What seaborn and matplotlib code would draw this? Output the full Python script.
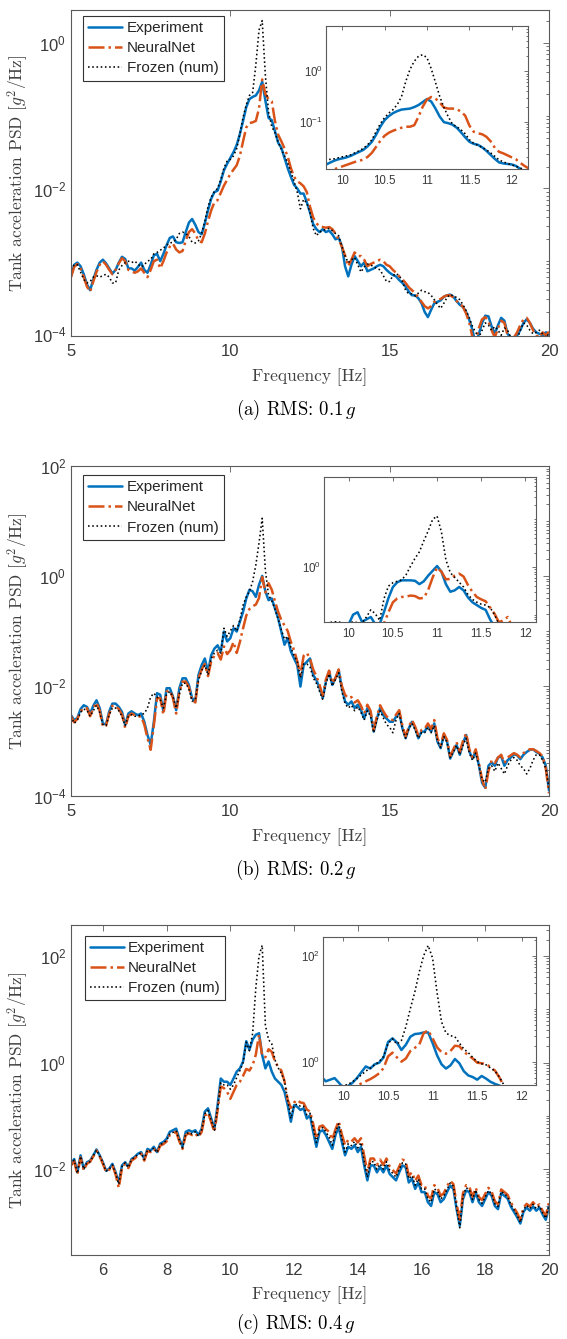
import numpy as np
import matplotlib
matplotlib.use("Agg")
import matplotlib.pyplot as plt
from matplotlib.ticker import LogLocator, FixedLocator, NullFormatter
import seaborn as sns

# ---------------- data (log10 of PSD, g^2/Hz) ----------------
freq_main = np.round(np.linspace(5.0, 20.0, 151), 2)
freq_inset = np.round(np.linspace(9.7, 12.2, 51), 2)
series_names = ["Experiment", "NeuralNet", "Frozen (num)"]
captions = ["(a)", "(b)", "(c)"]
rms_levels = ["0.1", "0.2", "0.4"]

exp_a = [-3.21, -3.05, -3.02, -3.07, -3.18, -3.32, -3.40, -3.25, -3.12, -3.02,
         -2.98, -3.03, -3.10, -3.17, -3.12, -3.02, -2.94, -2.97, -3.10, -3.10,
         -3.13, -3.08, -3.02, -3.12, -3.16, -3.05, -2.92, -2.90, -3.00, -2.90,
         -2.78, -2.68, -2.66, -2.74, -2.75, -2.74, -2.60, -2.47, -2.42, -2.50,
         -2.60, -2.63, -2.48, -2.30, -2.14, -2.05, -2.03, -1.90, -1.75, -1.66,
         -1.58, -1.50, -1.40, -1.25, -1.07, -0.88, -0.77, -0.74, -0.72, -0.65,
         -0.53, -0.79, -1.03, -1.06, -1.21, -1.37, -1.44, -1.58, -1.72, -1.84,
         -1.95, -2.00, -2.07, -2.07, -2.19, -2.33, -2.49, -2.56, -2.60, -2.56,
         -2.60, -2.58, -2.63, -2.70, -2.68, -2.79, -3.07, -3.21, -3.05, -2.93,
         -3.00, -3.07, -3.02, -3.14, -3.12, -3.10, -3.07, -3.05, -3.07, -3.12,
         -3.16, -3.19, -3.21, -3.26, -3.30, -3.35, -3.42, -3.47, -3.47, -3.51,
         -3.58, -3.70, -3.77, -3.67, -3.58, -3.56, -3.54, -3.49, -3.47, -3.46,
         -3.49, -3.55, -3.60, -3.63, -3.70, -3.81, -3.95, -4.15, -4.00, -3.85,
         -3.75, -3.76, -3.90, -4.00, -3.88, -3.78, -3.82, -4.00, -4.05, -4.05,
         -4.02, -3.95, -3.85, -3.80, -3.85, -3.93, -3.98, -4.00, -4.02, -3.98,
         -4.00]
nn_a = [-3.22, -3.08, -3.04, -3.10, -3.22, -3.35, -3.42, -3.28, -3.15, -3.05,
        -3.00, -3.05, -3.12, -3.18, -3.12, -3.03, -2.96, -3.00, -3.12, -3.14,
        -3.16, -3.14, -3.10, -3.16, -3.22, -3.12, -3.00, -2.98, -3.10, -3.00,
        -2.88, -2.80, -2.76, -2.84, -2.88, -2.86, -2.72, -2.60, -2.56, -2.62,
        -2.72, -2.74, -2.62, -2.45, -2.30, -2.19, -2.16, -2.06, -1.96, -1.88,
        -1.80, -1.74, -1.68, -1.55, -1.35, -1.16, -1.10, -1.09, -1.07, -0.90,
        -0.50, -0.70, -0.77, -0.80, -1.07, -1.26, -1.35, -1.45, -1.56, -1.72,
        -1.84, -1.90, -1.93, -1.97, -2.05, -2.25, -2.40, -2.48, -2.52, -2.53,
        -2.54, -2.53, -2.56, -2.62, -2.70, -2.80, -2.92, -3.07, -2.98, -2.88,
        -2.93, -2.93, -2.98, -3.07, -3.04, -3.02, -3.00, -2.98, -3.00, -3.05,
        -3.07, -3.12, -3.16, -3.21, -3.25, -3.30, -3.36, -3.40, -3.44, -3.50,
        -3.56, -3.62, -3.65, -3.62, -3.56, -3.54, -3.52, -3.49, -3.47, -3.47,
        -3.50, -3.55, -3.58, -3.63, -3.72, -3.85, -4.05, -4.10, -3.92, -3.80,
        -3.77, -3.83, -3.95, -4.05, -3.92, -3.82, -3.85, -4.02, -4.10, -4.05,
        -3.98, -3.88, -3.80, -3.78, -3.85, -3.95, -4.02, -4.05, -3.98, -4.02,
        -3.97]
frozen_a = [-3.12, -3.05, -3.05, -3.15, -3.25, -3.30, -3.28, -3.22, -3.20, -3.22,
            -3.20, -3.18, -3.22, -3.30, -3.30, -3.12, -3.06, -3.02, -3.00, -3.02,
            -3.00, -3.04, -3.08, -3.05, -3.00, -2.98, -2.90, -2.88, -2.85, -2.82,
            -2.78, -2.75, -2.74, -2.70, -2.62, -2.60, -2.62, -2.66, -2.74, -2.75,
            -2.72, -2.62, -2.45, -2.25, -2.12, -2.04, -2.00, -1.88, -1.72, -1.62,
            -1.60, -1.55, -1.45, -1.25, -1.02, -0.85, -0.72, -0.68, -0.30, 0.18,
            0.31, -0.45, -0.95, -1.15, -1.23, -1.36, -1.46, -1.55, -1.65, -1.77,
            -1.90, -2.05, -2.28, -2.15, -2.20, -2.33, -2.55, -2.65, -2.60, -2.58,
            -2.56, -2.55, -2.58, -2.62, -2.65, -2.80, -2.93, -3.02, -2.98, -2.95,
            -3.05, -3.15, -3.08, -3.04, -3.05, -3.08, -3.10, -3.12, -3.20, -3.28,
            -3.28, -3.20, -3.17, -3.20, -3.28, -3.40, -3.45, -3.45, -3.48, -3.44,
            -3.40, -3.42, -3.43, -3.47, -3.53, -3.60, -3.65, -3.58, -3.50, -3.46,
            -3.48, -3.50, -3.53, -3.60, -3.68, -3.78, -3.90, -3.98, -4.05, -3.95,
            -3.85, -3.88, -3.95, -3.90, -3.95, -4.02, -3.92, -3.95, -4.05, -4.10,
            -4.08, -3.95, -3.85, -3.88, -3.95, -4.00, -3.98, -3.95, -4.00, -4.05,
            -4.00]

exp_b = [-2.53, -2.62, -2.58, -2.42, -2.35, -2.38, -2.50, -2.36, -2.26, -2.40,
         -2.68, -2.70, -2.46, -2.32, -2.32, -2.38, -2.47, -2.71, -2.50, -2.46,
         -2.50, -2.53, -2.50, -2.65, -2.89, -3.07, -2.65, -2.13, -2.16, -2.46,
         -2.04, -2.04, -2.19, -2.44, -2.04, -1.86, -1.86, -1.98, -2.22, -2.28,
         -1.80, -1.62, -1.50, -1.74, -1.44, -1.32, -1.26, -1.38, -1.01, -1.19,
         -1.13, -0.95, -1.01, -0.83, -0.65, -0.41, -0.25, -0.28, -0.38, -0.16,
         0.00, -0.28, -0.44, -0.41, -0.59, -0.77, -1.01, -1.25, -1.13, -1.37,
         -1.50, -1.62, -2.01, -1.62, -1.56, -1.50, -1.80, -1.89, -2.04, -2.22,
         -1.92, -1.74, -1.98, -1.86, -1.71, -2.04, -2.28, -2.34, -2.28, -2.40,
         -2.34, -2.44, -2.59, -2.40, -2.50, -2.83, -2.59, -2.40, -2.53, -2.59,
         -2.65, -2.65, -2.56, -2.47, -2.77, -2.95, -2.77, -2.65, -2.77, -2.95,
         -2.83, -2.83, -2.71, -2.83, -2.68, -3.01, -3.13, -2.89, -3.01, -3.32,
         -3.19, -3.07, -3.25, -3.04, -2.89, -3.19, -3.32, -3.19, -3.44, -3.76,
         -3.85, -3.45, -3.39, -3.45, -3.30, -3.28, -3.45, -3.35, -3.30, -3.24,
         -3.26, -3.33, -3.25, -3.20, -3.16, -3.15, -3.20, -3.23, -3.30, -3.45,
         -3.90]
nn_b = [-2.55, -2.66, -2.60, -2.46, -2.40, -2.40, -2.55, -2.40, -2.30, -2.45,
        -2.74, -2.72, -2.50, -2.36, -2.36, -2.42, -2.52, -2.76, -2.55, -2.50,
        -2.53, -2.56, -2.55, -2.70, -2.95, -3.16, -2.72, -2.22, -2.22, -2.52,
        -2.10, -2.08, -2.22, -2.50, -2.10, -1.92, -1.92, -2.02, -2.26, -2.30,
        -1.86, -1.70, -1.60, -1.82, -1.55, -1.45, -1.40, -1.52, -1.28, -1.42,
        -1.35, -1.20, -1.40, -1.20, -0.95, -0.72, -0.60, -0.55, -0.52, -0.40,
        -0.02, -0.30, -0.13, -0.25, -0.46, -0.65, -0.80, -0.90, -1.00, -1.20,
        -1.35, -1.55, -1.80, -1.45, -1.40, -1.50, -1.70, -1.82, -1.98, -2.18,
        -1.88, -1.72, -1.95, -1.85, -1.70, -2.00, -2.16, -2.22, -2.20, -2.30,
        -2.26, -2.36, -2.50, -2.34, -2.45, -2.80, -2.55, -2.35, -2.46, -2.55,
        -2.60, -2.62, -2.52, -2.44, -2.72, -2.92, -2.74, -2.62, -2.74, -2.90,
        -2.80, -2.78, -2.68, -2.78, -2.62, -2.95, -3.08, -2.86, -2.98, -3.28,
        -3.15, -3.02, -3.20, -3.00, -2.86, -3.15, -3.30, -3.15, -3.40, -3.70,
        -3.88, -3.55, -3.35, -3.40, -3.30, -3.25, -3.40, -3.30, -3.26, -3.22,
        -3.25, -3.30, -3.22, -3.18, -3.15, -3.15, -3.18, -3.22, -3.28, -3.50,
        -3.95]
frozen_b = [-2.55, -2.68, -2.62, -2.48, -2.42, -2.44, -2.55, -2.45, -2.35, -2.48,
            -2.70, -2.72, -2.52, -2.40, -2.40, -2.45, -2.55, -2.72, -2.55, -2.52,
            -2.55, -2.55, -2.52, -2.50, -2.40, -2.20, -2.13, -2.20, -2.25, -2.40,
            -2.15, -2.10, -2.20, -2.40, -2.15, -1.95, -1.95, -2.05, -2.28, -2.25,
            -1.90, -1.72, -1.62, -1.80, -1.50, -1.40, -1.35, -1.40, -0.95, -1.10,
            -1.00, -0.90, -1.00, -0.80, -0.53, -0.38, -0.28, -0.10, 0.20, 0.60,
            1.05, 0.10, -0.35, -0.45, -0.60, -0.78, -0.98, -1.15, -1.10, -1.30,
            -1.45, -1.55, -1.85, -1.60, -1.60, -1.65, -1.85, -1.95, -2.10, -2.25,
            -1.95, -1.78, -2.00, -1.88, -1.76, -2.10, -2.32, -2.40, -2.35, -2.45,
            -2.38, -2.48, -2.62, -2.45, -2.55, -2.85, -2.62, -2.45, -2.58, -2.70,
            -2.75, -2.85, -2.62, -2.50, -2.78, -2.95, -2.78, -2.68, -2.80, -2.95,
            -2.85, -2.85, -2.75, -2.85, -2.72, -3.00, -3.12, -2.92, -3.02, -3.30,
            -3.20, -3.08, -3.25, -3.08, -2.95, -3.22, -3.35, -3.22, -3.45, -3.70,
            -3.75, -3.50, -3.45, -3.55, -3.40, -3.50, -3.60, -3.45, -3.35, -3.30,
            -3.35, -3.45, -3.50, -3.60, -3.50, -3.35, -3.25, -3.25, -3.35, -3.50,
            -3.85]

exp_c = [-1.90, -1.81, -2.06, -1.74, -1.99, -1.87, -1.84, -1.74, -1.63, -1.74,
         -1.87, -2.03, -1.99, -1.90, -2.06, -2.25, -1.93, -1.87, -1.96, -1.81,
         -1.77, -1.71, -1.68, -1.81, -1.62, -1.65, -1.58, -1.68, -1.52, -1.49,
         -1.43, -1.30, -1.27, -1.24, -1.43, -1.58, -1.30, -1.27, -1.30, -1.27,
         -1.36, -1.24, -0.92, -0.86, -1.05, -1.24, -0.80, -0.30, -0.36, -0.36,
         -0.42, -0.30, -0.17, -0.11, 0.02, 0.40, 0.24, 0.43, 0.52, 0.55,
         0.14, -0.11, 0.02, -0.17, -0.30, -0.36, -0.42, -0.55, -0.80, -1.11,
         -0.80, -0.83, -0.89, -0.86, -1.05, -0.99, -1.30, -1.58, -1.30, -1.27,
         -1.36, -1.49, -1.62, -1.36, -1.21, -1.49, -1.74, -1.58, -1.62, -1.55,
         -1.68, -1.58, -1.93, -2.21, -1.93, -1.93, -2.06, -1.96, -2.06, -1.93,
         -2.09, -2.15, -2.21, -2.06, -1.93, -1.96, -2.25, -2.18, -2.37, -2.25,
         -2.43, -2.43, -2.62, -2.69, -2.43, -2.47, -2.62, -2.56, -2.43, -2.31,
         -2.37, -2.75, -3.06, -2.56, -2.40, -2.43, -2.62, -2.43, -2.62, -2.69,
         -2.56, -2.43, -2.50, -2.69, -2.75, -2.45, -2.50, -2.55, -2.70, -2.80,
         -2.90, -3.02, -2.80, -2.72, -2.78, -2.70, -2.78, -2.72, -2.85, -2.95,
         -2.70]
nn_c = [-1.93, -1.85, -2.10, -1.78, -2.02, -1.90, -1.86, -1.76, -1.65, -1.76,
        -1.90, -2.05, -2.01, -1.93, -2.10, -2.35, -1.98, -1.90, -1.98, -1.84,
        -1.80, -1.74, -1.71, -1.84, -1.66, -1.68, -1.62, -1.70, -1.56, -1.53,
        -1.48, -1.36, -1.33, -1.30, -1.48, -1.62, -1.36, -1.33, -1.36, -1.33,
        -1.40, -1.30, -1.00, -0.94, -1.12, -1.30, -0.90, -0.45, -0.48, -0.55,
        -0.68, -0.55, -0.42, -0.36, -0.25, -0.12, -0.15, -0.05, 0.15, 0.52,
        0.12, 0.10, 0.25, 0.20, 0.02, -0.08, -0.15, -0.35, -0.70, -0.85,
        -0.75, -0.70, -0.75, -0.76, -0.88, -0.92, -1.15, -1.43, -1.20, -1.18,
        -1.25, -1.30, -1.45, -1.25, -1.10, -1.35, -1.55, -1.45, -1.48, -1.42,
        -1.50, -1.42, -1.75, -2.05, -1.80, -1.80, -1.92, -1.82, -1.92, -1.80,
        -1.95, -2.02, -2.08, -1.95, -1.82, -1.85, -2.12, -2.06, -2.22, -2.12,
        -2.30, -2.30, -2.50, -2.55, -2.30, -2.35, -2.50, -2.45, -2.32, -2.22,
        -2.28, -2.65, -2.95, -2.45, -2.30, -2.33, -2.52, -2.35, -2.52, -2.58,
        -2.46, -2.35, -2.42, -2.60, -2.66, -2.38, -2.43, -2.48, -2.62, -2.72,
        -2.82, -2.95, -2.72, -2.65, -2.70, -2.62, -2.70, -2.66, -2.78, -2.88,
        -2.62]
frozen_c = [-1.92, -1.83, -2.08, -1.76, -2.00, -1.88, -1.86, -1.75, -1.64, -1.75,
            -1.88, -2.04, -2.00, -1.92, -2.08, -2.28, -1.95, -1.88, -1.97, -1.82,
            -1.78, -1.72, -1.70, -1.82, -1.64, -1.66, -1.60, -1.69, -1.54, -1.51,
            -1.46, -1.34, -1.31, -1.28, -1.46, -1.60, -1.34, -1.31, -1.34, -1.30,
            -1.38, -1.27, -0.96, -0.90, -1.08, -1.27, -0.85, -0.38, -0.42, -0.42,
            -0.50, -0.42, -0.28, -0.15, 0.00, 0.38, 0.22, 0.55, 1.40, 2.00,
            2.20, 0.70, 0.43, 0.35, 0.05, -0.10, -0.20, -0.35, -0.70, -1.05,
            -0.80, -0.78, -0.82, -0.82, -0.98, -0.95, -1.22, -1.50, -1.25, -1.22,
            -1.30, -1.40, -1.55, -1.30, -1.15, -1.42, -1.68, -1.52, -1.56, -1.48,
            -1.60, -1.50, -1.85, -2.15, -1.86, -1.86, -2.00, -1.90, -2.00, -1.86,
            -2.02, -2.08, -2.15, -2.00, -1.88, -1.90, -2.18, -2.12, -2.30, -2.18,
            -2.37, -2.37, -2.56, -2.62, -2.37, -2.41, -2.56, -2.50, -2.38, -2.26,
            -2.32, -2.72, -3.10, -2.50, -2.35, -2.38, -2.57, -2.39, -2.57, -2.64,
            -2.52, -2.40, -2.46, -2.65, -2.70, -2.42, -2.46, -2.52, -2.66, -2.76,
            -2.86, -3.00, -2.76, -2.68, -2.74, -2.66, -2.74, -2.69, -2.82, -2.92,
            -2.66]

# inset (zoom around resonance), 9.70 .. 12.20 Hz
inset_exp_a = [-1.92, -1.90, -1.86, -1.82, -1.78, -1.75, -1.73, -1.71, -1.68, -1.64,
               -1.60, -1.56, -1.49, -1.40, -1.26, -1.10, -0.97, -0.89, -0.83, -0.79,
               -0.76, -0.75, -0.74, -0.71, -0.67, -0.61, -0.55, -0.60, -0.74, -0.90,
               -1.01, -1.03, -1.06, -1.12, -1.21, -1.31, -1.40, -1.44, -1.46, -1.51,
               -1.58, -1.66, -1.74, -1.81, -1.83, -1.84, -1.85, -1.88, -1.94, -2.00,
               -2.05]
inset_nn_a = [-2.10, -2.05, -2.02, -1.98, -1.95, -1.92, -1.89, -1.86, -1.83, -1.80,
              -1.78, -1.75, -1.70, -1.62, -1.50, -1.38, -1.28, -1.22, -1.18, -1.15,
              -1.12, -1.10, -1.10, -1.07, -0.90, -0.70, -0.56, -0.51, -0.54, -0.62,
              -0.72, -0.74, -0.74, -0.75, -0.80, -0.88, -1.08, -1.20, -1.23, -1.25,
              -1.30, -1.39, -1.52, -1.60, -1.63, -1.67, -1.71, -1.75, -1.82, -1.88,
              -1.93]
inset_frozen_a = [-1.80, -1.78, -1.76, -1.75, -1.74, -1.72, -1.70, -1.68, -1.66, -1.62,
                  -1.58, -1.53, -1.46, -1.36, -1.20, -1.04, -0.92, -0.83, -0.76, -0.66,
                  -0.50, -0.20, 0.04, 0.20, 0.30, 0.33, 0.27, 0.05, -0.22, -0.50,
                  -0.72, -0.90, -1.05, -1.10, -1.16, -1.24, -1.36, -1.43, -1.47, -1.51,
                  -1.56, -1.62, -1.69, -1.76, -1.80, -1.83, -1.86, -1.89, -1.92, -1.96,
                  -2.00]

inset_exp_b = [-1.30, -1.30, -1.30, -1.30, -1.30, -1.30, -1.20, -1.00, -0.95, -1.15,
               -1.10, -1.05, -1.20, -1.20, -0.94, -0.65, -0.42, -0.32, -0.28, -0.28,
               -0.28, -0.29, -0.36, -0.30, -0.18, -0.08, 0.02, -0.10, -0.36, -0.52,
               -0.49, -0.42, -0.49, -0.64, -0.74, -0.80, -0.86, -0.90, -1.10, -1.25,
               -1.35, -1.40, -1.45, -1.50, -1.55, -1.60, -1.60, -1.62, -1.65, -1.70,
               -1.70]
inset_nn_b = [-1.60, -1.60, -1.58, -1.56, -1.55, -1.52, -1.50, -1.48, -1.46, -1.44,
              -1.42, -1.40, -1.35, -1.30, -1.18, -0.95, -0.74, -0.66, -0.63, -0.62,
              -0.60, -0.61, -0.66, -0.65, -0.48, -0.22, -0.01, -0.10, -0.26, -0.25,
              -0.18, -0.14, -0.20, -0.38, -0.52, -0.63, -0.68, -0.72, -0.85, -0.98,
              -1.16, -1.12, -1.05, -1.25, -1.45, -1.55, -1.60, -1.62, -1.65, -1.70,
              -1.70]
inset_frozen_b = [-1.20, -1.18, -1.16, -1.15, -1.16, -1.18, -1.18, -1.15, -1.17, -1.18,
                  -1.05, -0.90, -0.98, -1.12, -0.66, -0.40, -0.33, -0.30, -0.27, -0.16,
                  0.02, 0.18, 0.32, 0.55, 0.76, 1.00, 1.07, 0.73, 0.15, -0.12,
                  -0.22, -0.32, -0.42, -0.58, -0.68, -0.74, -0.78, -0.80, -0.85, -1.00,
                  -1.20, -1.35, -1.45, -1.50, -1.55, -1.58, -1.60, -1.62, -1.65, -1.70,
                  -1.70]

inset_exp_c = [-0.25, -0.28, -0.37, -0.34, -0.31, -0.40, -0.50, -0.46, -0.40, -0.31,
               -0.20, -0.09, -0.13, -0.05, -0.02, 0.08, 0.37, 0.44, 0.36, 0.22,
               0.32, 0.47, 0.52, 0.53, 0.55, 0.55, 0.35, 0.12, -0.05, -0.13,
               -0.07, 0.05, -0.03, -0.18, -0.26, -0.29, -0.34, -0.27, -0.32, -0.38,
               -0.42, -0.45, -0.52, -0.60, -0.70, -0.75, -0.80, -0.85, -0.90, -0.95,
               -1.00]
inset_nn_c = [-0.75, -0.72, -0.70, -0.68, -0.65, -0.62, -0.60, -0.57, -0.50, -0.46,
              -0.41, -0.37, -0.33, -0.28, -0.22, -0.12, 0.10, 0.17, 0.08, 0.00,
              0.06, 0.20, 0.26, 0.32, 0.54, 0.59, 0.44, 0.27, 0.18, 0.15,
              0.20, 0.30, 0.29, 0.19, 0.12, 0.06, -0.02, -0.03, -0.05, -0.10,
              -0.17, -0.30, -0.46, -0.60, -0.70, -0.75, -0.80, -0.85, -0.90, -0.95,
              -1.00]
inset_frozen_c = [-0.55, -0.50, -0.49, -0.48, -0.47, -0.46, -0.45, -0.43, -0.38, -0.32,
                  -0.25, -0.18, -0.12, -0.06, 0.00, 0.10, 0.34, 0.43, 0.33, 0.40,
                  0.66, 1.00, 1.31, 1.69, 2.00, 2.19, 1.95, 1.30, 0.75, 0.54,
                  0.49, 0.47, 0.35, 0.24, 0.17, 0.08, 0.00, -0.04, -0.06, -0.12,
                  -0.18, -0.29, -0.44, -0.60, -0.70, -0.75, -0.80, -0.85, -0.90, -0.95,
                  -1.00]

# ---------------- style ----------------
sns.set_theme(style="white")
plt.rcParams["font.family"] = ["Liberation Sans", "DejaVu Sans"]
plt.rcParams["axes.linewidth"] = 0.8

W, H = 567, 1339
fig = plt.figure(figsize=(W / 100, H / 100), dpi=100)
fig.patch.set_facecolor("white")


def rect(l, t, r, b):
    return [l / W, 1 - b / H, (r - l) / W, (b - t) / H]


BLUE = "#0072BD"
ORANGE = "#D95319"
BLACK = "#000000"
EDGE = "#5a5a5a"
TICKC = "#3a3a3a"
styles = [dict(color=BLUE, linestyle="-", linewidth=1.8, solid_joinstyle="round"),
          dict(color=ORANGE, linestyle="-.", linewidth=1.8, dash_joinstyle="round"),
          dict(color=BLACK, linestyle=":", linewidth=1.15)]

panels = [
    dict(main=(71, 10, 549, 336), inset=(326, 26, 528, 169),
         ylim=(-4.03, 0.456), yt=[1e-4, 1e-2, 1e0],
         ixlim=(9.81, 12.19), iylim=(-1.94, 0.90), iyt=[1e-1, 1e0],
         data=[exp_a, nn_a, frozen_a], idata=[inset_exp_a, inset_nn_a, inset_frozen_a],
         xt=[5, 10, 15, 20], leg=(83, 15.7), xlab_y=377, cap_y=410),
    dict(main=(71, 466, 549, 796), inset=(324, 477, 536, 622),
         ylim=(-4.0, 2.0), yt=[1e-4, 1e-2, 1e0, 1e2],
         ixlim=(9.72, 12.12), iylim=(-1.155, 1.89), iyt=[1e-2, 1e0, 1e2],
         data=[exp_b, nn_b, frozen_b], idata=[inset_exp_b, inset_nn_b, inset_frozen_b],
         xt=[5, 10, 15, 20], leg=(83, 475), xlab_y=837, cap_y=870),
    dict(main=(71, 925, 549, 1255), inset=(323, 937, 536, 1085),
         ylim=(-3.61, 2.58), yt=[1e-2, 1e0, 1e2],
         ixlim=(9.77, 12.16), iylim=(-0.44, 2.35), iyt=[1e0, 1e2],
         data=[exp_c, nn_c, frozen_c], idata=[inset_exp_c, inset_nn_c, inset_frozen_c],
         xt=[6, 8, 10, 12, 14, 16, 18, 20], leg=(84.6, 935.5), xlab_y=1295, cap_y=1324),
]


def style_axes(ax, fs, pad_x, pad_y, major_len):
    for s in ax.spines.values():
        s.set_color(EDGE)
        s.set_linewidth(0.8)
        s.set_visible(True)
    ax.tick_params(axis="both", which="both", direction="in", top=True, right=True,
                   colors=EDGE, labelcolor=TICKC, labelsize=fs, width=0.6)
    ax.tick_params(axis="x", which="major", pad=pad_x, length=major_len)
    ax.tick_params(axis="y", which="major", pad=pad_y, length=major_len)
    ax.tick_params(axis="both", which="minor", length=major_len * 0.5)
    ax.set_facecolor("white")


SERIF = dict(family="cmr10", math_fontfamily="cm")

for i, p in enumerate(panels):
    ax = fig.add_axes(rect(*p["main"]))
    for vals, name, st in zip(p["data"], series_names, styles):
        sns.lineplot(x=freq_main, y=10.0 ** np.asarray(vals), ax=ax, label=name, **st)
    ax.set_yscale("log")
    ax.set_xlim(5, 20)
    ax.set_ylim(10 ** p["ylim"][0], 10 ** p["ylim"][1])
    ax.set_xticks(p["xt"])
    ax.set_xticklabels([str(v) for v in p["xt"]])
    ax.yaxis.set_major_locator(FixedLocator(p["yt"]))
    ax.yaxis.set_minor_locator(LogLocator(base=10, subs=np.arange(1, 10), numticks=100))
    ax.yaxis.set_minor_formatter(NullFormatter())
    ax.set_xlabel("")
    ax.set_ylabel("")
    style_axes(ax, 12, 6, 3.5, 4.0)

    leg = ax.legend(loc="upper left", bbox_to_anchor=(p["leg"][0] / W, 1 - p["leg"][1] / H),
                    bbox_transform=fig.transFigure, frameon=True, fancybox=False,
                    framealpha=1, edgecolor="#333333", borderpad=0.35, labelspacing=0.4,
                    handlelength=2.2, handletextpad=0.3, borderaxespad=0,
                    prop={"family": "Liberation Sans", "size": 11})
    leg.get_frame().set_linewidth(0.8)

    # inset
    ia = fig.add_axes(rect(*p["inset"]))
    ia.set_zorder(3)
    for vals, st in zip(p["idata"], styles):
        sns.lineplot(x=freq_inset, y=10.0 ** np.asarray(vals), ax=ia, legend=False, **st)
    ia.set_yscale("log")
    ia.set_xlim(*p["ixlim"])
    ia.set_ylim(10 ** p["iylim"][0], 10 ** p["iylim"][1])
    ia.set_xticks([10, 10.5, 11, 11.5, 12])
    ia.set_xticklabels(["10", "10.5", "11", "11.5", "12"])
    ia.yaxis.set_major_locator(FixedLocator(p["iyt"]))
    ia.yaxis.set_minor_locator(LogLocator(base=10, subs=np.arange(1, 10), numticks=100))
    ia.yaxis.set_minor_formatter(NullFormatter())
    ia.set_xlabel("")
    ia.set_ylabel("")
    style_axes(ia, 8.3, 4.5, 2.5, 3.0)

    # labels (LaTeX-like serif)
    l, t, r, b = p["main"]
    fig.text((l + r) / 2 / W, 1 - p["xlab_y"] / H, "Frequency [Hz]",
             ha="center", va="center", fontsize=12.5, color="#404040", **SERIF)
    fig.text(18 / W, 1 - (t + b) / 2 / H, r"Tank acceleration PSD [$g^2$/Hz]",
             ha="center", va="center", rotation=90, fontsize=12.5, color="#404040", **SERIF)
    fig.text(296 / W, 1 - p["cap_y"] / H,
             r"%s RMS: %s$\,g$" % (captions[i], rms_levels[i]),
             ha="center", va="center", fontsize=13.5, color="black", **SERIF)

fig.savefig("out.png", dpi=100, facecolor="white")
